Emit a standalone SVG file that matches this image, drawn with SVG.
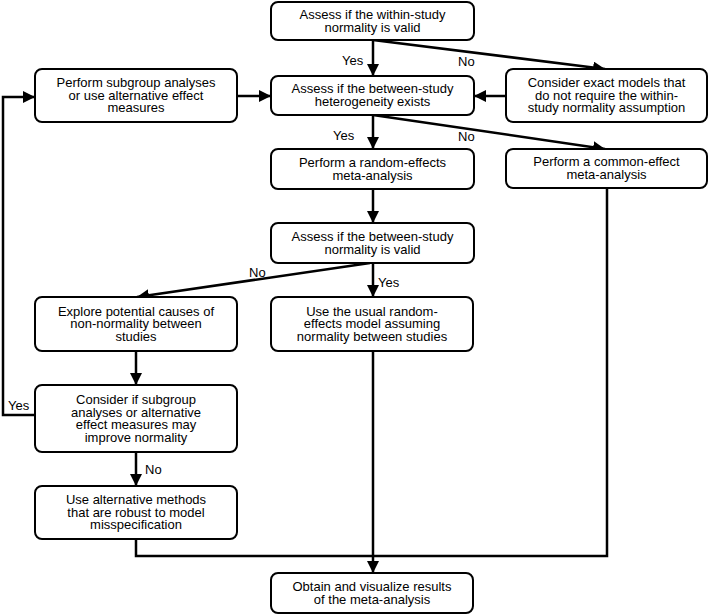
<svg xmlns="http://www.w3.org/2000/svg" width="709" height="615" viewBox="0 0 709 615">
<style>
.box{fill:#fff;stroke:#000;stroke-width:2}
.t{font-family:"Liberation Sans",Arial,sans-serif;font-size:13px;fill:#000;text-anchor:middle}
.l{font-family:"Liberation Sans",Arial,sans-serif;font-size:13px;fill:#000}
.c{fill:none;stroke:#000;stroke-width:2.5}
</style>
<defs>
<marker id="ah" markerUnits="userSpaceOnUse" markerWidth="12" markerHeight="12" viewBox="0 0 12 12" refX="12" refY="6" orient="auto">
<path d="M0,0 L12,6 L0,12 Z" fill="#000"/>
</marker>
</defs>
<rect width="709" height="615" fill="#fff"/>
<g id="connectors">
<path class="c" d="M373,40 V76" marker-end="url(#ah)"/>
<path class="c" d="M373,40 L605,69" marker-end="url(#ah)"/>
<path class="c" d="M237,96 H271" marker-end="url(#ah)"/>
<path class="c" d="M506,96 H474" marker-end="url(#ah)"/>
<path class="c" d="M373,115 V149" marker-end="url(#ah)"/>
<path class="c" d="M373,115 L605,149" marker-end="url(#ah)"/>
<path class="c" d="M373,189 V223" marker-end="url(#ah)"/>
<path class="c" d="M370,263 L137,297" marker-end="url(#ah)"/>
<path class="c" d="M373,263 V297" marker-end="url(#ah)"/>
<path class="c" d="M136,351 V385" marker-end="url(#ah)"/>
<path class="c" d="M136,452 V486" marker-end="url(#ah)"/>
<path class="c" d="M35,415 H3 V97 H35" marker-end="url(#ah)"/>
<path class="c" d="M136,539 V556 H607 V188"/>
<path class="c" d="M373,351 V573" marker-end="url(#ah)"/>
<text class="l" x="342" y="65">Yes</text>
<text class="l" x="458" y="66">No</text>
<text class="l" x="333" y="140">Yes</text>
<text class="l" x="458" y="141">No</text>
<text class="l" x="249" y="277">No</text>
<text class="l" x="378" y="287">Yes</text>
<text class="l" x="8" y="410">Yes</text>
<text class="l" x="145" y="474">No</text>
</g>
<g id="n1"><rect class="box" x="271" y="2" width="203" height="38" rx="7"/>
<text class="t" x="372.5" y="19">Assess if the within-study</text><text class="t" x="372.5" y="32">normality is valid</text></g>
<g id="n2"><rect class="box" x="271" y="76" width="203" height="39" rx="7"/>
<text class="t" x="372.5" y="93">Assess if the between-study</text><text class="t" x="372.5" y="106">heterogeneity exists</text></g>
<g id="n3"><rect class="box" x="35" y="69" width="202" height="53" rx="7"/>
<text class="t" x="136" y="87">Perform subgroup analyses</text><text class="t" x="136" y="99.5">or use alternative effect</text><text class="t" x="136" y="112">measures</text></g>
<g id="n4"><rect class="box" x="506" y="69" width="201" height="53" rx="7"/>
<text class="t" x="606.5" y="87">Consider exact models that</text><text class="t" x="606.5" y="99.5">do not require the within-</text><text class="t" x="606.5" y="112">study normality assumption</text></g>
<g id="n5"><rect class="box" x="271" y="149" width="203" height="40" rx="7"/>
<text class="t" x="372.5" y="166.5">Perform a random-effects</text><text class="t" x="372.5" y="179.5">meta-analysis</text></g>
<g id="n6"><rect class="box" x="506" y="149" width="201" height="39" rx="7"/>
<text class="t" x="606.5" y="166">Perform a common-effect</text><text class="t" x="606.5" y="179">meta-analysis</text></g>
<g id="n7"><rect class="box" x="271" y="223" width="203" height="40" rx="7"/>
<text class="t" x="372.5" y="240.5">Assess if the between-study</text><text class="t" x="372.5" y="253.5">normality is valid</text></g>
<g id="n8"><rect class="box" x="35" y="297" width="202" height="54" rx="7"/>
<text class="t" x="136" y="315.5">Explore potential causes of</text><text class="t" x="136" y="328">non-normality between</text><text class="t" x="136" y="340.5">studies</text></g>
<g id="n9"><rect class="box" x="271" y="297" width="202" height="54" rx="7"/>
<text class="t" x="372" y="315.5">Use the usual random-</text><text class="t" x="372" y="328">effects model assuming</text><text class="t" x="372" y="340.5">normality between studies</text></g>
<g id="n10"><rect class="box" x="35" y="385" width="202" height="67" rx="7"/>
<text class="t" x="136" y="404">Consider if subgroup</text><text class="t" x="136" y="416.5">analyses or alternative</text><text class="t" x="136" y="429">effect measures may</text><text class="t" x="136" y="441.5">improve normality</text></g>
<g id="n11"><rect class="box" x="35" y="486" width="202" height="53" rx="7"/>
<text class="t" x="136" y="504">Use alternative methods</text><text class="t" x="136" y="516.5">that are robust to model</text><text class="t" x="136" y="529">misspecification</text></g>
<g id="n12"><rect class="box" x="271" y="573" width="202" height="40" rx="7"/>
<text class="t" x="372" y="590.5">Obtain and visualize results</text><text class="t" x="372" y="603.5">of the meta-analysis</text></g>
</svg>
